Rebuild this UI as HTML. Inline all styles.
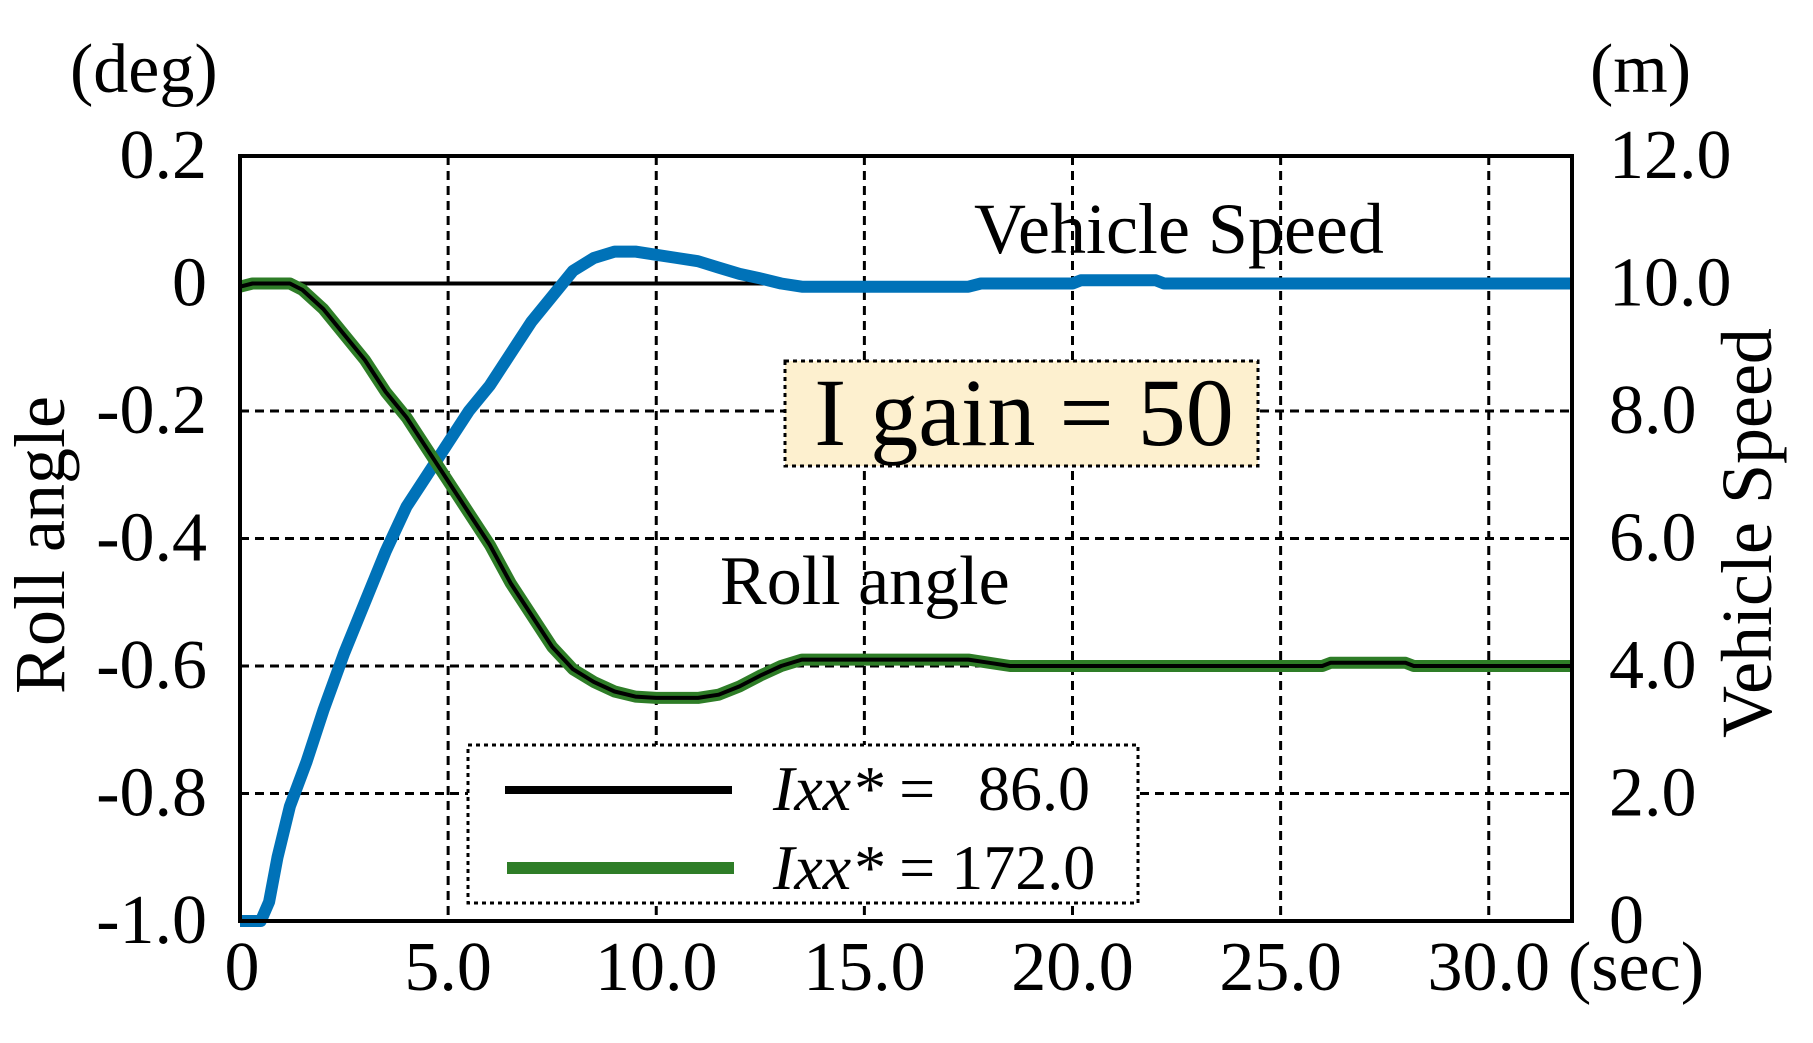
<!DOCTYPE html>
<html><head><meta charset="utf-8"><style>
html,body{margin:0;padding:0;background:#fff;}
svg{display:block;}
text{font-family:"Liberation Serif",serif;fill:#000;}
</style></head><body>
<svg id="s" width="1813" height="1043" viewBox="0 0 1813 1043" xmlns="http://www.w3.org/2000/svg">
<g id="grid" stroke="#000" stroke-width="3" stroke-dasharray="9,6" fill="none"></g>
<line x1="240" y1="283.5" x2="1572" y2="283.5" stroke="#000" stroke-width="4"/>
<rect x="785" y="361" width="473" height="105" fill="#fdf0cf" stroke="#000" stroke-width="3" stroke-dasharray="4,4"/>
<text x="1024" y="445" font-size="96" text-anchor="middle">I gain = 50</text>
<text x="974" y="253" font-size="72">Vehicle Speed</text>
<text x="720" y="604" font-size="70">Roll angle</text>
<path id="blue" fill="none" stroke="#0072b8" stroke-width="12" stroke-linejoin="round"/>
<path id="green" fill="none" stroke="#2e7d27" stroke-width="12" stroke-linejoin="round"/>
<path id="black" fill="none" stroke="#000" stroke-width="4" stroke-linejoin="round"/>
<rect x="468" y="745" width="670" height="158" fill="#fff" stroke="#000" stroke-width="3" stroke-dasharray="4,4"/>
<line x1="505" y1="790" x2="732" y2="790" stroke="#000" stroke-width="8"/>
<line x1="507" y1="868" x2="734" y2="868" stroke="#2e7d27" stroke-width="12"/>
<text x="773" y="810" font-size="64"><tspan font-style="italic">Ixx*</tspan> =</text>
<text x="1090" y="810" font-size="64" text-anchor="end">86.0</text>
<text x="773" y="889" font-size="64"><tspan font-style="italic">Ixx*</tspan> = 172.0</text>
<rect x="240" y="156" width="1332" height="765" fill="none" stroke="#000" stroke-width="4"/>
<g font-size="70" text-anchor="end" id="yl"></g>
<g font-size="70" id="yr"></g>
<g font-size="70" text-anchor="middle" id="xl"></g>
<text x="1568" y="990" font-size="70">(sec)</text>
<text x="70" y="92" font-size="70">(deg)</text>
<text x="1590" y="92" font-size="70">(m)</text>
<text transform="translate(64,545) rotate(-90)" font-size="72" text-anchor="middle">Roll angle</text>
<text transform="translate(1771,533) rotate(-90)" font-size="72" text-anchor="middle">Vehicle Speed</text>
</svg>
<script>
var NS="http://www.w3.org/2000/svg";
function X(t){return 240+t*41.625;}
function YR(v){return 283.5-v*637.5;}
function YS(s){return 921-s*63.75;}
function el(p,tag,a,txt){var e=document.createElementNS(NS,tag);for(var k in a)e.setAttribute(k,a[k]);if(txt!==undefined)e.textContent=txt;document.getElementById(p).appendChild(e);}
for(var t=5;t<=30;t+=5)el("grid","line",{x1:X(t),y1:156,x2:X(t),y2:921});
for(var v=-0.2;v>-0.9;v-=0.2)el("grid","line",{x1:240,y1:YR(v),x2:1572,y2:YR(v)});
var yl=["0.2","0","-0.2","-0.4","-0.6","-0.8","-1.0"],yr=["12.0","10.0","8.0","6.0","4.0","2.0","0"];
for(var i=0;i<7;i++){var y=156+i*127.5+22;el("yl","text",{x:207,y:y},yl[i]);el("yr","text",{x:1609,y:y},yr[i]);}
var xl=["0","5.0","10.0","15.0","20.0","25.0","30.0"];
for(var i=0;i<7;i++){el("xl","text",{x:X(i*5)+(i==0?2:0),y:990},xl[i]);}
var sp=[[0,0],[0.5,0],[0.7,0.3],[0.9,1.0],[1.2,1.8],[1.6,2.5],[2,3.3],[2.5,4.2],[3,5.0],[3.5,5.8],[4,6.5],[4.5,7.0],[5,7.5],[5.5,8.0],[6,8.4],[6.5,8.9],[7,9.4],[7.5,9.8],[8,10.2],[8.5,10.4],[9,10.5],[9.5,10.5],[10,10.45],[10.5,10.4],[11,10.35],[11.5,10.25],[12,10.15],[12.5,10.08],[13,10.0],[13.5,9.95],[17.5,9.95],[17.8,10.0],[20,10.0],[20.2,10.05],[22,10.05],[22.2,10.0],[32,10.0]];
var rl=[[0,-0.005],[0.3,0],[1.2,0],[1.5,-0.01],[2,-0.04],[2.5,-0.08],[3,-0.12],[3.5,-0.17],[4,-0.21],[4.5,-0.26],[5,-0.31],[5.5,-0.36],[6,-0.41],[6.5,-0.47],[7,-0.52],[7.5,-0.57],[8,-0.605],[8.5,-0.625],[9,-0.64],[9.5,-0.648],[10,-0.65],[11,-0.65],[11.5,-0.645],[12,-0.632],[12.5,-0.615],[13,-0.6],[13.5,-0.59],[17.5,-0.59],[18,-0.595],[18.5,-0.6],[26,-0.6],[26.2,-0.595],[28,-0.595],[28.2,-0.6],[32,-0.6]];
function path(a,f){return a.map(function(p,i){return (i?"L":"M")+X(p[0]).toFixed(1)+","+f(p[1]).toFixed(1);}).join("");}
document.getElementById("blue").setAttribute("d",path(sp,YS));
var d=path(rl,YR);
document.getElementById("green").setAttribute("d",d);
document.getElementById("black").setAttribute("d",d);
</script>
</body></html>
